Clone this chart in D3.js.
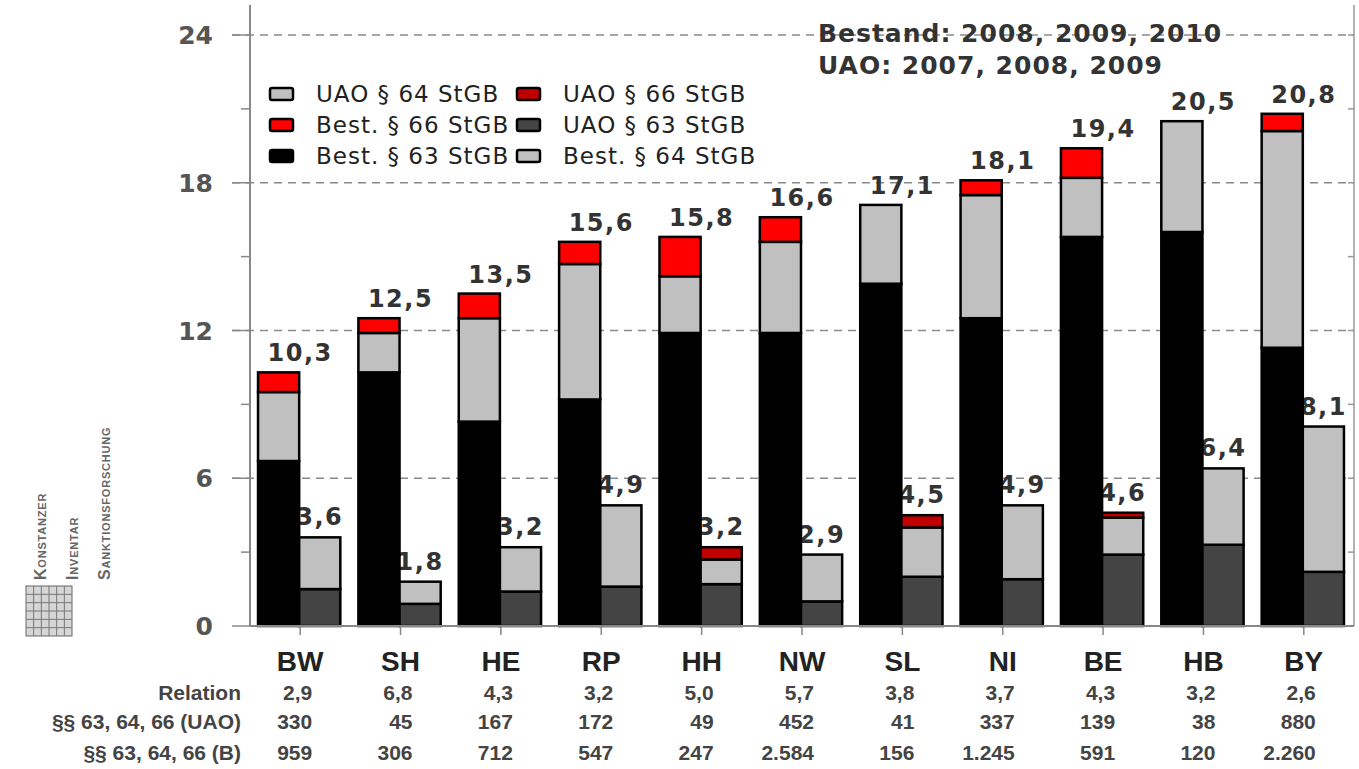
<!DOCTYPE html>
<html>
<head>
<meta charset="utf-8">
<script src="https://cdn.jsdelivr.net/npm/d3@7"></script>
<style>
  body { margin: 0; background: #fff; }
  svg { display: block; }
</style>
</head>
<body>
<div id="chart"></div>
<script>
// Bundesländer
const categories = ['BW', 'SH', 'HE', 'RP', 'HH', 'NW', 'SL', 'NI', 'BE', 'HB', 'BY'];

// Bestand (pro 100.000)
const best63 = [6.7, 10.3, 8.3, 9.2, 11.9, 11.9, 13.9, 12.5, 15.8, 16.0, 11.3];
const best64 = [2.8, 1.6, 4.2, 5.5, 2.3, 3.7, 3.2, 5.0, 2.4, 4.5, 8.8];
const best66 = [0.8, 0.6, 1.0, 0.9, 1.6, 1.0, 0, 0.6, 1.2, 0, 0.7];

// Unterbringungsanordnungen
const uao63 = [1.5, 0.9, 1.4, 1.6, 1.7, 1.0, 2.0, 1.9, 2.9, 3.3, 2.2];
const uao64 = [2.1, 0.9, 1.8, 3.3, 1.0, 1.9, 2.0, 3.0, 1.5, 3.1, 5.9];
const uao66 = [0, 0, 0, 0, 0.5, 0, 0.5, 0, 0.2, 0, 0];

// table below the chart
const relation = ['2,9', '6,8', '4,3', '3,2', '5,0', '5,7', '3,8', '3,7', '4,3', '3,2', '2,6'];
const countUAO = ['330', '45', '167', '172', '49', '452', '41', '337', '139', '38', '880'];
const countB = ['959', '306', '712', '547', '247', '2.584', '156', '1.245', '591', '120', '2.260'];

const yTicks = [0, 6, 12, 18, 24];
const yMinorTicks = [3, 9, 15, 21];

const colors = {
  best63: '#000000',
  best64: '#c0c0c0',
  best66: '#ff0000',
  uao63: '#444444',
  uao64: '#c0c0c0',
  uao66: '#c00000',
};

const legendItems = [
  { label: 'UAO § 64 StGB', key: 'uao64', col: 0, row: 0 },
  { label: 'UAO § 66 StGB', key: 'uao66', col: 1, row: 0 },
  { label: 'Best. § 66 StGB', key: 'best66', col: 0, row: 1 },
  { label: 'UAO § 63 StGB', key: 'uao63', col: 1, row: 1 },
  { label: 'Best. § 63 StGB', key: 'best63', col: 0, row: 2 },
  { label: 'Best. § 64 StGB', key: 'best64', col: 1, row: 2 },
];

const width = 1359;
const height = 769;
const plot = { left: 250, right: 1354, top: 35, bottom: 626 };

const svg = d3.select('#chart')
  .append('svg')
  .attr('width', width)
  .attr('height', height);

svg.append('rect').attr('width', width).attr('height', height).attr('fill', '#fff');

const x0 = d3.scaleBand().domain(categories).range([plot.left, plot.right]);
const step = x0.step();
const x1 = d3.scaleBand().domain(['B', 'UAO']).range([0.08 * step, 0.9 * step]);
const y = d3.scaleLinear().domain([0, 24]).range([plot.bottom, plot.top]);

const numFont = 'DejaVu Sans, Verdana, sans-serif';
const fmt = (v) => d3.format('.1f')(v).replace('.', ',');

// stacked segments per category and series
const segs = [];
categories.forEach((c, i) => {
  let acc = 0;
  [['best63', best63], ['best64', best64], ['best66', best66]].forEach(([k, arr]) => {
    if (arr[i] > 0) segs.push({ c, s: 'B', y0: acc, y1: acc + arr[i], key: k });
    acc += arr[i];
  });
  acc = 0;
  [['uao63', uao63], ['uao64', uao64], ['uao66', uao66]].forEach(([k, arr]) => {
    if (arr[i] > 0) segs.push({ c, s: 'UAO', y0: acc, y1: acc + arr[i], key: k });
    acc += arr[i];
  });
});

const totalsB = categories.map((c, i) => best63[i] + best64[i] + best66[i]);
const totalsU = categories.map((c, i) => uao63[i] + uao64[i] + uao66[i]);

// gridlines
svg.append('g')
  .selectAll('line')
  .data(yTicks.filter((d) => d > 0))
  .join('line')
  .attr('x1', plot.left - 18)
  .attr('x2', plot.right)
  .attr('y1', (d) => y(d))
  .attr('y2', (d) => y(d))
  .attr('stroke', '#8a8a8a')
  .attr('stroke-width', 1.5)
  .attr('stroke-dasharray', '8,6');

// UAO labels go under the bars (the black bars clip them a little)
svg.append('g')
  .selectAll('text')
  .data(categories)
  .join('text')
  .attr('x', (c) => x0(c) + x1('UAO') + x1.bandwidth() / 2)
  .attr('y', (c, i) => y(totalsU[i]) - 12)
  .attr('text-anchor', 'middle')
  .attr('font-family', numFont)
  .attr('font-weight', 'bold')
  .attr('font-size', 24)
  .attr('letter-spacing', 1.5)
  .attr('fill', '#333')
  .text((c, i) => fmt(totalsU[i]));

// bars
svg.append('g')
  .selectAll('rect')
  .data(segs)
  .join('rect')
  .attr('x', (d) => x0(d.c) + x1(d.s))
  .attr('width', x1.bandwidth())
  .attr('y', (d) => y(d.y1))
  .attr('height', (d) => y(d.y0) - y(d.y1))
  .attr('fill', (d) => colors[d.key])
  .attr('stroke', '#000')
  .attr('stroke-width', 2.5);

// B labels
svg.append('g')
  .selectAll('text')
  .data(categories)
  .join('text')
  .attr('x', (c) => x0(c) + step / 2)
  .attr('y', (c, i) => y(totalsB[i]) - 11)
  .attr('text-anchor', 'middle')
  .attr('font-family', numFont)
  .attr('font-weight', 'bold')
  .attr('font-size', 24)
  .attr('letter-spacing', 1.5)
  .attr('fill', '#333')
  .text((c, i) => fmt(totalsB[i]));

// left axis
const yAxis = svg.append('g');
yAxis.append('line')
  .attr('x1', plot.left).attr('x2', plot.left)
  .attr('y1', plot.top - 30).attr('y2', plot.bottom)
  .attr('stroke', '#888').attr('stroke-width', 2);
yAxis.selectAll('.major')
  .data(yTicks)
  .join('line')
  .attr('x1', plot.left - 18).attr('x2', plot.left)
  .attr('y1', (d) => y(d)).attr('y2', (d) => y(d))
  .attr('stroke', '#888').attr('stroke-width', 1.5);
yAxis.selectAll('.minor')
  .data(yMinorTicks)
  .join('line')
  .attr('x1', plot.left - 9).attr('x2', plot.left)
  .attr('y1', (d) => y(d)).attr('y2', (d) => y(d))
  .attr('stroke', '#888').attr('stroke-width', 1.5);
yAxis.selectAll('text')
  .data(yTicks)
  .join('text')
  .attr('x', 213)
  .attr('y', (d) => y(d))
  .attr('dy', '0.36em')
  .attr('text-anchor', 'end')
  .attr('font-family', numFont)
  .attr('font-weight', 'bold')
  .attr('font-size', 25)
  .attr('fill', '#555')
  .text((d) => d);

// right axis
const rAxis = svg.append('g');
rAxis.append('line')
  .attr('x1', plot.right).attr('x2', plot.right)
  .attr('y1', plot.top - 30).attr('y2', plot.bottom)
  .attr('stroke', '#999').attr('stroke-width', 1.5);
rAxis.selectAll('line.t')
  .data(yTicks.concat(yMinorTicks))
  .join('line')
  .attr('class', 't')
  .attr('x1', plot.right - 6).attr('x2', plot.right)
  .attr('y1', (d) => y(d)).attr('y2', (d) => y(d))
  .attr('stroke', '#999').attr('stroke-width', 1.5);

// x axis
svg.append('line')
  .attr('x1', plot.left).attr('x2', plot.right)
  .attr('y1', plot.bottom).attr('y2', plot.bottom)
  .attr('stroke', '#888').attr('stroke-width', 2);
svg.append('g')
  .selectAll('line')
  .data(categories)
  .join('line')
  .attr('x1', (c) => x0(c) + step / 2).attr('x2', (c) => x0(c) + step / 2)
  .attr('y1', plot.bottom).attr('y2', plot.bottom + 9)
  .attr('stroke', '#888').attr('stroke-width', 1.5);

// category labels
svg.append('g')
  .selectAll('text')
  .data(categories)
  .join('text')
  .attr('x', (c) => x0(c) + step / 2)
  .attr('y', 671)
  .attr('text-anchor', 'middle')
  .attr('font-family', 'Liberation Sans, Arial, sans-serif')
  .attr('font-weight', 'bold')
  .attr('font-size', 28)
  .attr('fill', '#222')
  .text((c) => c);

// table rows
const tableFont = 'Liberation Sans, Arial, sans-serif';
const rows = [
  { label: 'Relation', vals: relation, y: 700 },
  { label: '§§ 63, 64, 66 (UAO)', vals: countUAO, y: 729 },
  { label: '§§ 63, 64, 66 (B)', vals: countB, y: 760 },
];
const table = svg.append('g')
  .attr('font-family', tableFont)
  .attr('font-weight', 'bold')
  .attr('font-size', 21)
  .attr('fill', '#444');
rows.forEach((r) => {
  table.append('text')
    .attr('x', 241).attr('y', r.y)
    .attr('text-anchor', 'end')
    .text(r.label);
  table.append('g')
    .selectAll('text')
    .data(categories)
    .join('text')
    .attr('x', (c) => x0(c) + step / 2 + 12)
    .attr('y', r.y)
    .attr('text-anchor', 'end')
    .text((c, i) => r.vals[i]);
});

// legend
const legend = svg.append('g').attr('transform', 'translate(270, 94)');
const li = legend.selectAll('g')
  .data(legendItems)
  .join('g')
  .attr('transform', (d) => `translate(${d.col * 247}, ${d.row * 31})`);
li.append('rect')
  .attr('x', 0).attr('y', -6)
  .attr('width', 23).attr('height', 12)
  .attr('rx', 2)
  .attr('fill', (d) => colors[d.key])
  .attr('stroke', '#000')
  .attr('stroke-width', 2.5);
li.append('text')
  .attr('x', 46)
  .attr('dy', '0.36em')
  .attr('font-family', numFont)
  .attr('font-size', 23)
  .attr('letter-spacing', 1)
  .attr('fill', '#222')
  .text((d) => d.label);

// period note
const note = svg.append('g')
  .attr('font-family', numFont)
  .attr('font-weight', 'bold')
  .attr('font-size', 25)
  .attr('letter-spacing', 1)
  .attr('fill', '#333');
note.append('text').attr('x', 818).attr('y', 42).text('Bestand: 2008, 2009, 2010');
note.append('text').attr('x', 818).attr('y', 74).text('UAO: 2007, 2008, 2009');

// small logo at the left
const logo = svg.append('g');
const grid = logo.append('g').attr('transform', 'translate(26, 586)');
grid.append('rect').attr('width', 46).attr('height', 50).attr('fill', '#d6d6d6').attr('stroke', '#666');
d3.range(1, 6).forEach((k) => {
  grid.append('line').attr('x1', k * 46 / 6).attr('x2', k * 46 / 6).attr('y1', 0).attr('y2', 50).attr('stroke', '#777');
  grid.append('line').attr('x1', 0).attr('x2', 46).attr('y1', k * 50 / 6).attr('y2', k * 50 / 6).attr('stroke', '#777');
});
[['KONSTANZER', 46], ['INVENTAR', 78], ['SANKTIONSFORSCHUNG', 110]].forEach(([t, xx]) => {
  const txt = logo.append('text')
    .attr('transform', `translate(${xx}, 580) rotate(-90)`)
    .attr('font-family', 'Liberation Sans, Arial, sans-serif')
    .attr('font-weight', 'bold')
    .attr('font-size', 11)
    .attr('letter-spacing', 0.8)
    .attr('fill', '#666');
  txt.append('tspan').attr('font-size', 16).text(t[0]);
  txt.append('tspan').text(t.slice(1));
});
</script>
</body>
</html>
